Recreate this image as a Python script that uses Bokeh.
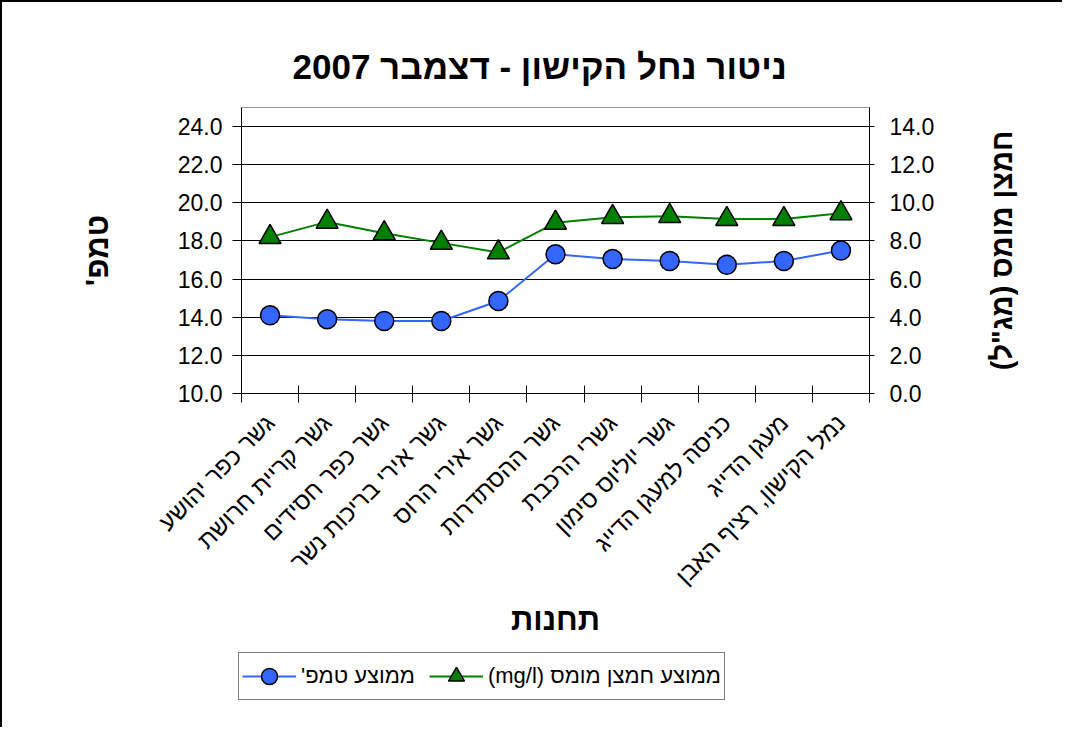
import math
from bokeh.plotting import figure
from bokeh.layouts import row, column
from bokeh.models import Range1d, LinearAxis, FixedTicker, Legend, LegendItem, PrintfTickFormatter
from bokeh.embed import file_html
from bokeh.resources import INLINE

# ---------------- data ----------------
title_text = "ניטור נחל הקישון - דצמבר 2007"
stations = [
    "גשר כפר יהושע",
    "גשר קריית חרושת",
    "גשר כפר חסידים",
    "גשר אירי בריכות נשר",
    "גשר אירי הרוס",
    "גשר ההסתדרות",
    "גשרי הרכבת",
    "גשר יוליוס סימון",
    "כניסה למעגן הדייג",
    "מעגן הדייג",
    "נמל הקישון, רציף האבן",
]
temp = [14.1, 13.9, 13.8, 13.8, 14.85, 17.3, 17.05, 16.95, 16.75, 16.95, 17.5]
oxygen = [8.2, 9.0, 8.4, 7.9, 7.4, 8.95, 9.25, 9.3, 9.15, 9.15, 9.45]
temp_ticks = [10, 12, 14, 16, 18, 20, 22, 24]
oxygen_ticks = [0, 2, 4, 6, 8, 10, 12, 14]
temp_range = (10, 25)
oxygen_range = (0, 15)
left_label = "טמפ'"
right_label = 'חמצן מומס (מג"ל)'
x_label = "תחנות"
legend_labels = ["ממוצע טמפ'", "ממוצע חמצן מומס (mg/l)"]

RLE, PDF = "\u202b", "\u202c"


def rtl(s):
    return RLE + s + PDF


FONT = "Liberation Sans"
BLUE = "#3366FF"
GREEN = "#008000"

n = len(stations)
xs = [i + 0.5 for i in range(n)]

MAIN_H = 650
TOP = 105
FRAME_H = 286
BOTTOM = MAIN_H - TOP - FRAME_H

p = figure(
    width=980, height=MAIN_H, output_backend="svg", toolbar_location=None,
    x_range=Range1d(0, n), y_range=Range1d(*temp_range),
    min_border_left=239, min_border_right=113, min_border_top=TOP, min_border_bottom=BOTTOM,
    background_fill_color="white", border_fill_color="white",
)
p.extra_y_ranges = {"ox": Range1d(*oxygen_range)}

# title
p.title.text = title_text
p.title.text_font = FONT
p.title.text_font_size = "35px"
p.title.text_font_style = "bold"
p.title.text_color = "black"
p.title.align = "left"
p.title.offset = 51
p.title.standoff = 44

p.outline_line_color = "#999999"
p.outline_line_width = 1

# grid
p.xgrid.visible = False
p.ygrid.ticker = FixedTicker(ticks=temp_ticks)
p.ygrid.grid_line_color = "black"
p.ygrid.grid_line_width = 1

# left axis
la = p.yaxis[0]
la.ticker = FixedTicker(ticks=temp_ticks)
la.formatter = PrintfTickFormatter(format="%.1f")
la.major_tick_in = 0
la.major_tick_out = 9
la.minor_tick_line_color = None
la.major_label_standoff = 10
la.major_label_text_font = FONT
la.major_label_text_font_size = "23px"
la.major_label_text_color = "black"
la.axis_line_color = "black"
la.major_tick_line_color = "black"
la.axis_label = rtl(left_label)
la.axis_label_text_font = FONT
la.axis_label_text_font_size = "31px"
la.axis_label_text_font_style = "bold"
la.axis_label_text_color = "black"
la.axis_label_standoff = 60

# right axis (ticks + labels)
ra = LinearAxis(y_range_name="ox")
ra.ticker = FixedTicker(ticks=oxygen_ticks)
ra.formatter = PrintfTickFormatter(format="%.1f")
ra.major_tick_in = 3
ra.major_tick_out = 5
ra.minor_tick_line_color = None
ra.major_label_standoff = 15
ra.major_label_text_font = FONT
ra.major_label_text_font_size = "23px"
ra.major_label_text_color = "black"
ra.axis_line_color = "black"
p.add_layout(ra, "right")

# bottom axis
xa = p.xaxis[0]
xa.ticker = FixedTicker(ticks=xs, minor_ticks=list(range(n + 1)))
xa.major_label_overrides = {x: rtl(s) for x, s in zip(xs, stations)}
xa.major_tick_in = 0
xa.major_tick_out = 0
xa.minor_tick_in = 8
xa.minor_tick_out = 9
xa.minor_tick_line_color = "black"
xa.axis_line_color = "black"
xa.major_label_orientation = math.pi / 4
xa.major_label_standoff = 16
xa.major_label_text_font = FONT
xa.major_label_text_font_size = "24px"
xa.major_label_text_color = "black"
xa.axis_label = rtl(x_label)
xa.axis_label_text_font = FONT
xa.axis_label_text_font_size = "31px"
xa.axis_label_text_font_style = "bold"
xa.axis_label_text_color = "black"
xa.axis_label_standoff = 0

# series
p.line(xs, temp, line_color=BLUE, line_width=2)
p.scatter(xs, temp, marker="circle", size=19, fill_color=BLUE, line_color="black", line_width=1.5)
p.line(xs, oxygen, line_color=GREEN, line_width=2, y_range_name="ox")
p.scatter(xs, oxygen, marker="triangle", size=22, fill_color=GREEN, line_color="black",
          line_width=1.5, y_range_name="ox")

# right-hand title: a bare side figure whose left axis label reads bottom-to-top
p2 = figure(
    width=80, height=MAIN_H, output_backend="svg", toolbar_location=None,
    x_range=Range1d(0, 1), y_range=Range1d(0, 1),
    min_border_left=60, min_border_right=0, min_border_top=TOP, min_border_bottom=BOTTOM,
    background_fill_color="white", border_fill_color="white",
)
p2.outline_line_color = None
p2.grid.visible = False
p2.xaxis.visible = False
ya2 = p2.yaxis[0]
ya2.ticker = FixedTicker(ticks=[])
ya2.axis_line_color = None
ya2.major_tick_line_color = None
ya2.minor_tick_line_color = None
ya2.major_label_text_font_size = "0px"
ya2.axis_label = rtl(right_label)
ya2.axis_label_text_font = FONT
ya2.axis_label_text_font_size = "29px"
ya2.axis_label_text_font_style = "bold"
ya2.axis_label_text_color = "black"
ya2.axis_label_standoff = 28

# legend strip below the chart (series drawn outside its view, only their keys show)
LEG_H = 75
p3 = figure(
    width=1060, height=LEG_H, output_backend="svg", toolbar_location=None,
    x_range=Range1d(0, 1), y_range=Range1d(0, 1), min_border=0,
    background_fill_color="white", border_fill_color="white",
)
p3.outline_line_color = None
p3.grid.visible = False
p3.axis.visible = False
k1 = p3.line(xs, temp, line_color=BLUE, line_width=2)
k2 = p3.scatter(xs, temp, marker="circle", fill_color=BLUE, line_color="black", line_width=1.5)
k3 = p3.line(xs, oxygen, line_color=GREEN, line_width=2)
k4 = p3.scatter(xs, oxygen, marker="triangle", fill_color=GREEN, line_color="black", line_width=1.5)
legend = Legend(
    items=[LegendItem(label=rtl(legend_labels[0]), renderers=[k1, k2]),
           LegendItem(label=rtl(legend_labels[1]), renderers=[k3, k4])],
    orientation="horizontal", location=(236, LEG_H - 48),
    border_line_color="black", border_line_width=1,
    label_text_font=FONT, label_text_font_size="22px", label_text_color="black",
    glyph_width=54, glyph_height=40, label_standoff=5, spacing=14, padding=3, margin=0,
    background_fill_color="white", background_fill_alpha=1,
)
p3.add_layout(legend, "center")

layout = column(row(p, p2, spacing=0), p3, spacing=0,
                styles={"border-left": "2px solid black", "border-top": "2px solid black"})

open("out.html", "w").write(file_html(layout, INLINE))
